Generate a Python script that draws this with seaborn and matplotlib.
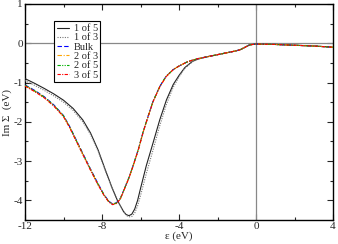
import matplotlib
matplotlib.use("Agg")
import matplotlib.pyplot as plt
from matplotlib.ticker import MultipleLocator
import seaborn as sns
import pandas as pd

# ---- data ----
eps_outer = [-12, -11.5, -11, -10.5, -10, -9.5, -9, -8.6, -8.2, -7.86, -7.5, -7.2,
             -6.9, -6.75, -6.6, -6.45, -6.3, -6.15, -6.0, -5.7, -5.35, -5.0, -4.65,
             -4.3, -4.0, -3.7, -3.3, -3.0, -2.5, -1.8, -1.2, -0.85, -0.6, -0.33, 0.0,
             1.0, 2.0, 3.0, 4.0]
im_1of5 = [-0.90, -1.02, -1.15, -1.29, -1.45, -1.66, -1.95, -2.28, -2.72, -3.18, -3.65, -4.00,
           -4.27, -4.36, -4.39, -4.35, -4.22, -4.00, -3.70, -3.12, -2.54, -1.95, -1.44,
           -1.05, -0.82, -0.62, -0.46, -0.40, -0.34, -0.27, -0.21, -0.17, -0.11, -0.04, -0.02,
           -0.03, -0.05, -0.07, -0.10]
im_1of3 = [-0.95, -1.07, -1.20, -1.34, -1.50, -1.71, -2.00, -2.32, -2.75, -3.20, -3.66, -4.00,
           -4.27, -4.38, -4.42, -4.41, -4.32, -4.14, -3.88, -3.32, -2.72, -2.10, -1.55,
           -1.12, -0.86, -0.64, -0.47, -0.40, -0.34, -0.27, -0.21, -0.17, -0.11, -0.04, -0.02,
           -0.03, -0.05, -0.07, -0.10]

eps_inner = [-12, -11.5, -11, -10.5, -10, -9.7, -9.3, -9.0, -8.6, -8.2, -7.9, -7.65,
             -7.45, -7.25, -7.05, -6.85, -6.6, -6.4, -6.1, -5.86, -5.6, -5.35, -5.0,
             -4.67, -4.3, -4.0, -3.6, -3.3, -3.0, -2.5, -1.8, -1.2, -0.85, -0.6, -0.33,
             0.0, 1.0, 2.0, 3.0, 4.0]
im_bulk = [-1.06, -1.20, -1.36, -1.57, -1.84, -2.10, -2.50, -2.80, -3.20, -3.58, -3.85, -4.02,
           -4.09, -4.06, -3.95, -3.72, -3.42, -3.14, -2.68, -2.25, -1.85, -1.48, -1.10,
           -0.84, -0.67, -0.58, -0.48, -0.43, -0.39, -0.34, -0.27, -0.21, -0.17, -0.11, -0.04,
           -0.02, -0.03, -0.05, -0.07, -0.10]
im_2of3 = [-1.08, -1.22, -1.38, -1.59, -1.86, -2.12, -2.52, -2.82, -3.22, -3.60, -3.86, -4.03,
           -4.10, -4.07, -3.96, -3.73, -3.43, -3.15, -2.69, -2.26, -1.86, -1.49, -1.11,
           -0.85, -0.67, -0.58, -0.48, -0.43, -0.39, -0.34, -0.27, -0.21, -0.17, -0.11, -0.04,
           -0.02, -0.03, -0.05, -0.07, -0.10]
im_2of5 = [-1.07, -1.21, -1.37, -1.58, -1.85, -2.11, -2.51, -2.81, -3.21, -3.59, -3.86, -4.03,
           -4.10, -4.07, -3.96, -3.72, -3.42, -3.14, -2.68, -2.25, -1.85, -1.48, -1.10,
           -0.84, -0.67, -0.58, -0.48, -0.43, -0.39, -0.34, -0.27, -0.21, -0.17, -0.11, -0.04,
           -0.02, -0.03, -0.05, -0.07, -0.10]
im_3of5 = [-1.09, -1.23, -1.39, -1.60, -1.87, -2.13, -2.53, -2.83, -3.23, -3.61, -3.87, -4.04,
           -4.11, -4.08, -3.97, -3.73, -3.43, -3.15, -2.69, -2.26, -1.86, -1.49, -1.11,
           -0.85, -0.67, -0.58, -0.48, -0.43, -0.39, -0.34, -0.27, -0.21, -0.17, -0.11, -0.04,
           -0.02, -0.03, -0.05, -0.07, -0.10]

labels = ["1 of 5", "1 of 3", "Bulk", "2 of 3", "2 of 5", "3 of 5"]
x_ticks = [-12, -8, -4, 0, 4]
y_ticks = [-4, -3, -2, -1, 0, 1]

series = [
    (eps_outer, im_1of5, "#222222", "-"),
    (eps_outer, im_1of3, "#777777", (0, (1, 1.2))),
    (eps_inner, im_bulk, "#0000ff", (0, (4, 2))),
    (eps_inner, im_2of3, "#ffa500", (0, (4, 1.5, 1, 1.5))),
    (eps_inner, im_2of5, "#00b000", (0, (3, 1.2, 1, 1.2, 1, 1.2))),
    (eps_inner, im_3of5, "#ff0000", (0, (3, 1.2, 1, 1.2))),
]

sns.set_style("ticks")
plt.rcParams["font.family"] = ["Liberation Serif", "DejaVu Serif"]
plt.rcParams["mathtext.fontset"] = "stix"

fig = plt.figure(figsize=(3.38, 2.44), dpi=100)
ax = fig.add_axes([25 / 338, 1 - 220 / 244, 308 / 338, 216 / 244])

ax.axhline(0, color="#888888", lw=0.9, zorder=1)
ax.axvline(0, color="#888888", lw=0.9, zorder=1)

for (ex, ey, col, ls), lab in zip(series, labels):
    df = pd.DataFrame({"eps": ex, "im": ey})
    sns.lineplot(data=df, x="eps", y="im", ax=ax, color=col, linestyle=ls,
                 lw=0.8, label=lab, zorder=3)

ax.set_xlim(-12, 4)
ax.set_ylim(-4.5, 1)
ax.set_xticks(x_ticks)
ax.set_yticks(y_ticks)
ax.set_xticklabels([str(v) for v in x_ticks])
ax.set_yticklabels([str(v) for v in y_ticks])
ax.xaxis.set_minor_locator(MultipleLocator(2))
ax.yaxis.set_minor_locator(MultipleLocator(0.5))
ax.tick_params(which="both", direction="in", top=True, right=True, labelsize=8, pad=1.5)
ax.tick_params(which="major", length=4, width=0.8)
ax.tick_params(which="minor", length=2, width=0.8)
for s in ax.spines.values():
    s.set_linewidth(1.0)
    s.set_color("black")

ax.set_xlabel("ε (eV)", fontsize=8, labelpad=0)
ax.set_ylabel("Im Σ  (eV)", fontsize=8, labelpad=1)

leg = ax.legend(loc="upper left", bbox_to_anchor=(0.095, 0.92), fontsize=7.5,
                frameon=True, fancybox=False, edgecolor="black", framealpha=1,
                handlelength=1.2, handletextpad=0.4, labelspacing=0.0,
                borderpad=0.25, borderaxespad=0)
leg.get_frame().set_linewidth(0.8)

fig.savefig("out.png", dpi=100)
